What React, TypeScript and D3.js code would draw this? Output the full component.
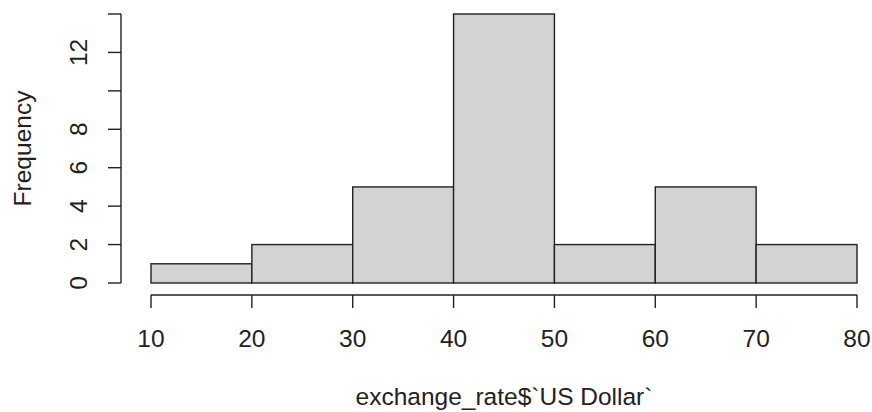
import React from "react";
import * as d3 from "d3";

// Histogram bins of exchange_rate$`US Dollar`
const binEdges = [10, 20, 30, 40, 50, 60, 70, 80];
const counts = [1, 2, 5, 14, 2, 5, 2];
const xTicks = [10, 20, 30, 40, 50, 60, 70, 80];
const yTicks = [0, 2, 4, 6, 8, 10, 12, 14];
const yLabelled = [0, 2, 4, 6, 8, 12];

const W = 872;
const H = 412;
const FONT = "'Liberation Sans', Arial, sans-serif";
const FS = 24.5;

export default function App() {
  const x = d3.scaleLinear().domain([10, 80]).range([151, 857]);
  const y = d3.scaleLinear().domain([0, 14]).range([283, 14]);
  const axisY = 295;
  const axisX = 121;
  const tick = 13;
  const ink = "#222";

  const bins = counts.map((c, i) => ({ x0: binEdges[i], x1: binEdges[i + 1], c }));

  return (
    <svg
      width={W}
      height={H}
      style={{ position: "absolute", left: 0, top: 0, background: "#fff" }}
      fontFamily={FONT}
    >
      {bins.map((b, i) => (
        <rect
          key={i}
          x={x(b.x0)}
          y={y(b.c)}
          width={x(b.x1) - x(b.x0)}
          height={y(0) - y(b.c)}
          fill="#d3d3d3"
          stroke={ink}
          strokeWidth={1.4}
        />
      ))}

      {/* x axis */}
      <line x1={x(10)} x2={x(80)} y1={axisY} y2={axisY} stroke={ink} strokeWidth={1.4} />
      {xTicks.map((t) => (
        <g key={t}>
          <line x1={x(t)} x2={x(t)} y1={axisY} y2={axisY + tick} stroke={ink} strokeWidth={1.4} />
          <text x={x(t)} y={347} textAnchor="middle" fontSize={FS} fill={ink}>
            {t}
          </text>
        </g>
      ))}
      <text x={(x(10) + x(80)) / 2} y={405} textAnchor="middle" fontSize={FS} fill={ink}>
        exchange_rate$`US Dollar`
      </text>

      {/* y axis */}
      <line x1={axisX} x2={axisX} y1={y(0)} y2={y(14)} stroke={ink} strokeWidth={1.4} />
      {yTicks.map((t) => (
        <line key={t} x1={axisX - tick} x2={axisX} y1={y(t)} y2={y(t)} stroke={ink} strokeWidth={1.4} />
      ))}
      {yLabelled.map((t) => (
        <text
          key={t}
          transform={`translate(87,${y(t)}) rotate(-90)`}
          textAnchor="middle"
          fontSize={FS}
          fill={ink}
        >
          {t}
        </text>
      ))}
      <text
        transform={`translate(31,${(y(0) + y(14)) / 2}) rotate(-90)`}
        textAnchor="middle"
        fontSize={FS}
        fill={ink}
      >
        Frequency
      </text>
    </svg>
  );
}
